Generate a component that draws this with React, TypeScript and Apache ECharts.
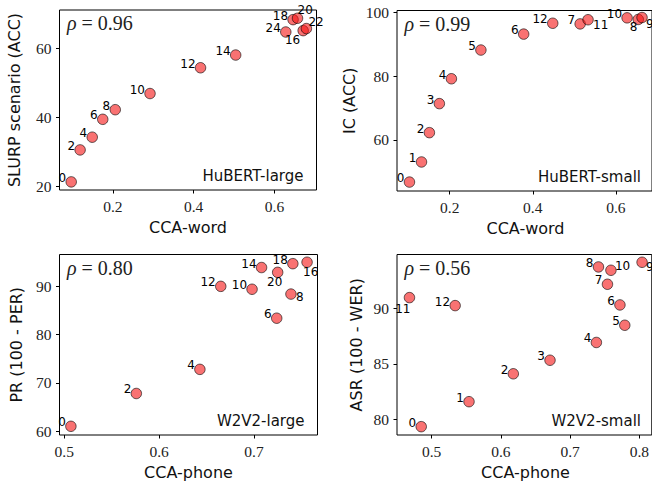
import React, { useEffect, useRef } from "react";
import * as echarts from "echarts";

// Panel 1: HuBERT-large, SLURP scenario vs CCA-word
const p1Layers = [0, 2, 4, 6, 8, 10, 12, 14, 16, 18, 20, 22, 24];
const p1Cca = [0.097, 0.119, 0.149, 0.175, 0.206, 0.292, 0.417, 0.504, 0.671, 0.646, 0.657, 0.679, 0.628];
const p1Score = [21.2, 30.5, 34.2, 39.4, 42.2, 46.9, 54.4, 58.1, 65.2, 68.4, 68.8, 65.8, 64.8];

// Panel 2: HuBERT-small, IC vs CCA-word
const p2Layers = [0, 1, 2, 3, 4, 5, 6, 7, 8, 9, 10, 11, 12];
const p2Cca = [0.103, 0.132, 0.151, 0.175, 0.204, 0.275, 0.378, 0.514, 0.654, 0.663, 0.627, 0.533, 0.448];
const p2Score = [46.8, 53.1, 62.3, 71.4, 79.2, 88.2, 93.2, 96.4, 97.8, 98.4, 98.3, 97.7, 96.6];

// Panel 3: W2V2-large, PR vs CCA-phone
const p3Layers = [0, 2, 4, 6, 8, 10, 12, 14, 16, 18, 20];
const p3Cca = [0.507, 0.576, 0.643, 0.724, 0.739, 0.698, 0.665, 0.708, 0.756, 0.741, 0.725];
const p3Score = [61.0, 67.8, 72.8, 83.4, 88.4, 89.4, 90.0, 93.9, 95.0, 94.7, 92.9];

// Panel 4: W2V2-small, ASR vs CCA-phone
const p4Layers = [0, 1, 2, 3, 4, 5, 6, 7, 8, 9, 10, 11, 12];
const p4Cca = [0.485, 0.554, 0.618, 0.671, 0.738, 0.779, 0.772, 0.754, 0.741, 0.804, 0.759, 0.468, 0.534];
const p4Score = [79.34, 81.59, 84.1, 85.32, 86.92, 88.47, 90.3, 92.16, 93.72, 94.14, 93.42, 90.96, 90.24];

const rhoTexts = ["0.96", "0.99", "0.80", "0.56"];
const modelNames = ["HuBERT-large", "HuBERT-small", "W2V2-large", "W2V2-small"];
const xNames = ["CCA-word", "CCA-word", "CCA-phone", "CCA-phone"];
const yNames = ["SLURP scenario (ACC)", "IC (ACC)", "PR (100 - PER)", "ASR (100 - WER)"];
const xTicks = [[0.2, 0.4, 0.6], [0.2, 0.4, 0.6], [0.5, 0.6, 0.7], [0.5, 0.6, 0.7, 0.8]];
const yTicks = [[20, 40, 60], [60, 80, 100], [60, 70, 80, 90], [80, 85, 90]];

// layout (not data)
const grids = [
  { left: 59.5, top: 10, width: 257, height: 180 },
  { left: 397, top: 10.5, width: 257, height: 180.5 },
  { left: 59.5, top: 254.5, width: 258, height: 180.5 },
  { left: 397, top: 254.5, width: 257, height: 180.5 },
];
const xRanges = [[0.068, 0.704], [0.073, 0.687], [0.495, 0.767], [0.45, 0.818]];
const yRanges = [[18.84, 71.2], [44.0, 100.6], [59.2, 96.6], [78.59, 94.84]];

const labelTweaks: Record<string, { align: string; offset: number[] }> = {
  "0-16": { align: "right", offset: [-3, 9] },
  "0-20": { align: "left", offset: [0, -8] },
  "0-22": { align: "left", offset: [2, -7] },
  "1-8": { align: "right", offset: [-1, 8] },
  "1-9": { align: "left", offset: [4, 6] },
  "1-11": { align: "left", offset: [5, 5] },
  "2-16": { align: "left", offset: [-4, 10] },
  "2-8": { align: "left", offset: [5, 3] },
  "2-20": { align: "center", offset: [-3, 10] },
  "3-11": { align: "right", offset: [1, 11] },
  "3-10": { align: "left", offset: [4, -4.5] },
  "3-9": { align: "left", offset: [4, 5] },
};

const SANS = "DejaVu Sans";
const SERIF = "Liberation Serif";

export default function App() {
  const ref = useRef<HTMLDivElement>(null);
  useEffect(() => {
    if (!ref.current) return;
    const chart = echarts.init(ref.current, null, { renderer: "svg" });
    const panels = [
      [p1Layers, p1Cca, p1Score],
      [p2Layers, p2Cca, p2Score],
      [p3Layers, p3Cca, p3Score],
      [p4Layers, p4Cca, p4Score],
    ];
    const series = panels.map(([layers, xs, ys], pi) => ({
      type: "scatter",
      xAxisIndex: pi,
      yAxisIndex: pi,
      symbol: "circle",
      symbolSize: 10.5,
      itemStyle: { color: "rgba(245,20,20,0.75)", borderColor: "rgba(0,0,0,0.75)", borderWidth: 1 },
      label: {
        show: true,
        position: "inside",
        formatter: "{b}",
        fontFamily: SANS,
        fontSize: 12,
        color: "#000",
        textBorderWidth: 0,
        opacity: 1,
        verticalAlign: "middle",
        align: "right",
        offset: [-5, -4],
      },
      emphasis: { disabled: true },
      data: (layers as number[]).map((l, i) => {
        const tw = labelTweaks[`${pi}-${l}`];
        const item: any = { name: String(l), value: [xs[i], ys[i]] };
        if (tw) item.label = { align: tw.align, offset: tw.offset };
        return item;
      }),
    }));
    const graphic: any[] = [];
    grids.forEach((g, i) => {
      graphic.push({
        type: "text",
        x: g.left + 7.5,
        y: g.top + 13,
        style: {
          rich: {
            i: { fontFamily: SERIF, fontStyle: "italic", fontSize: 20, fill: "#222" },
            n: { fontFamily: SERIF, fontSize: 20, fill: "#222" },
          },
          text: `{i|ρ}{n| = ${rhoTexts[i]}}`,
          verticalAlign: "middle",
          align: "left",
        },
      });
      graphic.push({
        type: "text",
        x: g.left + g.width - 13,
        y: g.top + g.height - 14.5,
        style: {
          text: modelNames[i],
          font: `15px "${SANS}"`,
          fill: "#111",
          align: "right",
          verticalAlign: "middle",
        },
      });
      graphic.push({
        type: "text",
        x: g.left + g.width / 2,
        y: g.top + g.height + 37.5,
        style: {
          text: xNames[i],
          font: `16px "${SANS}"`,
          fill: "#111",
          align: "center",
          verticalAlign: "middle",
        },
      });
    });
    const yLabelX = [14.2, 349.3, 16.7, 356];
    grids.forEach((g, i) => {
      graphic.push({
        type: "text",
        x: yLabelX[i],
        y: g.top + g.height / 2,
        rotation: Math.PI / 2,
        style: {
          text: yNames[i],
          font: `16px "${SANS}"`,
          fill: "#111",
          align: "center",
          verticalAlign: "middle",
        },
      });
    });
    const tickStyle = { show: true, inside: false, length: 3.5, lineStyle: { color: "#000", width: 1 } };
    chart.setOption({
      animation: false,
      backgroundColor: "#fff",
      grid: grids.map((g) => ({ ...g, show: true, borderColor: "#000", borderWidth: 1, backgroundColor: "transparent", containLabel: false })),
      xAxis: grids.map((_, i) => ({
        type: "value",
        gridIndex: i,
        min: xRanges[i][0],
        max: xRanges[i][1],
        splitLine: { show: false },
        axisLine: { show: false },
        axisTick: { ...tickStyle, customValues: xTicks[i] },
        axisLabel: {
          customValues: xTicks[i],
          formatter: (v: number) => v.toFixed(1),
          fontFamily: SERIF,
          fontSize: 15.5,
          color: "#222",
          margin: 8,
        },
      })),
      yAxis: grids.map((_, i) => ({
        type: "value",
        gridIndex: i,
        min: yRanges[i][0],
        max: yRanges[i][1],
        splitLine: { show: false },
        axisLine: { show: false },
        axisTick: { ...tickStyle, customValues: yTicks[i] },
        axisLabel: {
          customValues: yTicks[i],
          formatter: (v: number) => String(Math.round(v)),
          fontFamily: SERIF,
          fontSize: 15.5,
          color: "#222",
          margin: 8,
        },
      })),
      series,
      graphic,
    });
    return () => chart.dispose();
  }, []);
  return <div ref={ref} style={{ position: "fixed", left: 0, top: 0, width: 652, height: 485 }} />;
}
